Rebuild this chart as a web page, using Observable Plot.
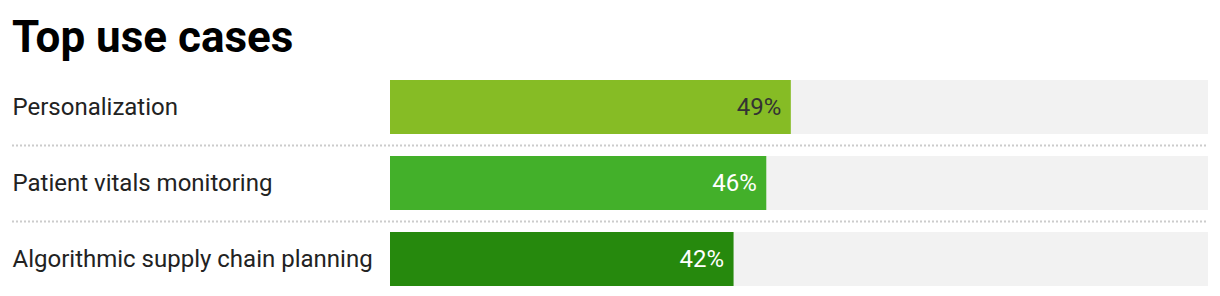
<!DOCTYPE html>
<html>
<head>
<meta charset="utf-8">
<script src="https://cdn.jsdelivr.net/npm/d3@7"></script>
<script src="https://cdn.jsdelivr.net/npm/@observablehq/plot@0.6"></script>
<style>
  html, body { margin: 0; padding: 0; background: #fff; }
  #title { font: bold 44px Roboto, sans-serif; line-height: 1; color: #000;
           padding: 15px 0 0 12px; height: 70px; box-sizing: border-box; white-space: nowrap; }
  #chart svg { display: block; }
</style>
</head>
<body>
<div id="title">Top use cases</div>
<div id="chart"></div>
<script>
const categories = ["Personalization", "Patient vitals monitoring", "Algorithmic supply chain planning"];
const values = [49, 46, 42];
const barColors = ["#86bc25", "#43b02a", "#26890d"];
const labelColors = ["#333333", "#ffffff", "#ffffff"];

const data = categories.map((name, i) => ({
  name, value: values[i], color: barColors[i], labelColor: labelColors[i]
}));

const chart = Plot.plot({
  width: 1220,
  height: 226,
  marginTop: 10,
  marginBottom: 10,
  marginLeft: 12,
  marginRight: 12,
  x: { domain: [0, 100], range: [390, 1208], axis: null },
  y: { domain: categories, range: [10, 216], paddingInner: 22 / 76, paddingOuter: 0, axis: null },
  color: { type: "identity" },
  style: { fontFamily: "Roboto, sans-serif", background: "#fff" },
  marks: [
    Plot.ruleY(categories.slice(1), {
      y: d => d, dy: -38, stroke: "#cccccc", strokeWidth: 2, strokeDasharray: "2,2"
    }),
    Plot.barX(data, { y: "name", x1: 0, x2: 100, fill: "#f2f2f2" }),
    Plot.barX(data, { y: "name", x1: 0, x2: "value", fill: "color" }),
    Plot.text(data, {
      y: "name", text: "name", frameAnchor: "left", textAnchor: "start",
      fontSize: 24, fill: "#222222"
    }),
    Plot.text(data, {
      y: "name", x: "value", text: d => d.value + "%", textAnchor: "end", dx: -10,
      fontSize: 24, fill: "labelColor"
    })
  ]
});
document.getElementById("chart").appendChild(chart);
</script>
</body>
</html>
